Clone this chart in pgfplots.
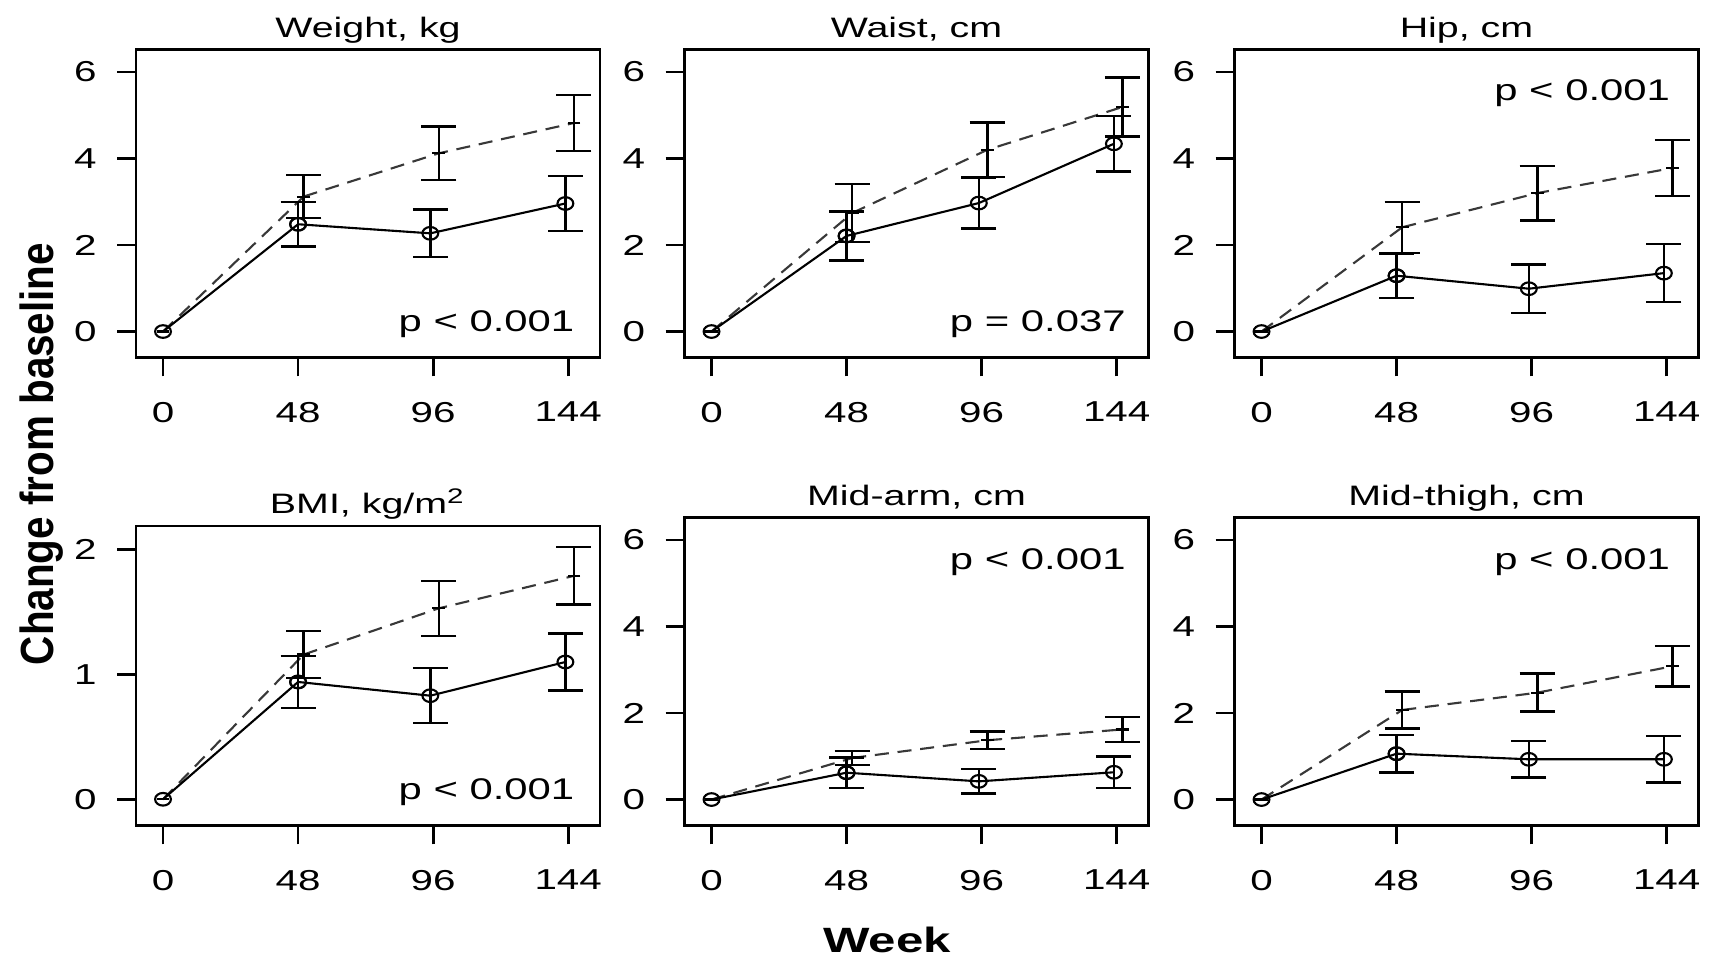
\documentclass[border=0pt]{standalone}
\usepackage{fontspec}
\setmainfont{Liberation Sans}
\usepackage{pgfplots}
\pgfplotsset{compat=1.18}
\newcommand\sx[1]{\scalebox{1.4}[1]{#1}}
\tikzset{pv/.style={anchor=base east, inner sep=0pt, font=\fontsize{8.5}{9}\selectfont}}
\pgfplotsset{
  panel/.style={
    scale only axis, width=4.64cm, height=3.08cm,
    xmin=-9.6, xmax=155.3, ymin=-0.6, ymax=6.52,
    axis line style={line width=0.8pt},
    xtick={0,48,96,144},
    xticklabels={\sx{0},\sx{48},\sx{96},\sx{144}},
    ytick={0,2,4,6},
    yticklabels={\sx{0},\sx{2},\sx{4},\sx{6}},
    xtick pos=bottom, ytick pos=left,
    tick align=outside, major tick length=0.19cm,
    tick style={line width=0.8pt, black},
    ticklabel style={font=\fontsize{8.2}{9}\selectfont},
    xticklabel style={yshift=-0.13cm},
    yticklabel style={xshift=-0.08cm},
    title style={at={(0.5,1)}, anchor=base, yshift=-0.086cm, font=\fontsize{8}{9}\selectfont},
    clip=false,
  },
  sol/.style={black, line width=0.6pt, mark=o, mark size=1.8pt, mark options={solid, line width=0.6pt, xscale=1.25}},
  dsh/.style={black!78, line width=0.6pt, dash pattern=on 4pt off 2.5pt, mark=-, mark size=1.8pt, mark options={solid, black}},
  eb/.style={error bars/.cd, y dir=both, y explicit,
    error bar style={line width=0.7pt, solid, black},
    error mark options={line width=0.7pt, black, solid, mark size=5pt, rotate=90}},
}
\begin{document}
\begin{tikzpicture}
\path[use as bounding box] (0,0) rectangle (17.16,9.56);
% Weight
\begin{axis}[panel, at={(1.36cm,5.985cm)}, anchor=south west, title={\sx{Weight, kg}}]
\addplot[dsh] coordinates {(0,0) (50,3.12)};
\addplot[dsh, eb] coordinates {(50,3.12) +- (0,0.5) (98,4.12) +- (0,0.62) (146,4.82) +- (0,0.65)};
\addplot[sol] coordinates {(0,0) (48,2.48)};
\addplot[sol, eb] coordinates {(48,2.48) +- (0,0.51) (95,2.27) +- (0,0.55) (143,2.96) +- (0,0.64)};
\node[pv] at (axis cs:146.4,0) {\sx{p < 0.001}};
\end{axis}
% Waist
\begin{axis}[panel, at={(6.845cm,5.985cm)}, anchor=south west, title={\sx{Waist, cm}}]
\addplot[dsh] coordinates {(0,0) (50,2.74)};
\addplot[dsh, eb] coordinates {(50,2.74) +- (0,0.67) (98,4.2) +- (0,0.63) (146,5.19) +- (0,0.68)};
\addplot[sol] coordinates {(0,0) (48,2.21)};
\addplot[sol, eb] coordinates {(48,2.21) +- (0,0.57) (95,2.97) +- (0,0.59) (143,4.34) +- (0,0.64)};
\node[pv] at (axis cs:147.4,0) {\sx{p = 0.037}};
\end{axis}
% Hip
\begin{axis}[panel, at={(12.345cm,5.985cm)}, anchor=south west, title={\sx{Hip, cm}}]
\addplot[dsh] coordinates {(0,0) (50,2.41)};
\addplot[dsh, eb] coordinates {(50,2.41) +- (0,0.59) (98,3.2) +- (0,0.63) (146,3.78) +- (0,0.65)};
\addplot[sol] coordinates {(0,0) (48,1.29)};
\addplot[sol, eb] coordinates {(48,1.29) +- (0,0.51) (95,0.99) +- (0,0.56) (143,1.35) +- (0,0.67)};
\node[pv] at (axis cs:145.4,5.35) {\sx{p < 0.001}};
\end{axis}
% BMI
\begin{axis}[panel, at={(1.36cm,1.305cm)}, anchor=south west, height=2.995cm,
  ymin=-0.21, ymax=2.19, ytick={0,1,2}, yticklabels={\sx{0},\sx{1},\sx{2}},
  title={\sx{BMI, kg/m\textsuperscript{2}}}]
\addplot[dsh] coordinates {(0,0) (50,1.16)};
\addplot[dsh, eb] coordinates {(50,1.16) +- (0,0.19) (98,1.53) +- (0,0.22) (146,1.79) +- (0,0.23)};
\addplot[sol] coordinates {(0,0) (48,0.94)};
\addplot[sol, eb] coordinates {(48,0.94) +- (0,0.21) (95,0.83) +- (0,0.22) (143,1.10) +- (0,0.23)};
\node[pv] at (axis cs:146.4,0) {\sx{p < 0.001}};
\end{axis}
% Mid-arm
\begin{axis}[panel, at={(6.845cm,1.305cm)}, anchor=south west, title={\sx{Mid-arm, cm}}]
\addplot[dsh] coordinates {(0,0) (50,0.96)};
\addplot[dsh, eb] coordinates {(50,0.96) +- (0,0.16) (98,1.37) +- (0,0.2) (146,1.62) +- (0,0.29)};
\addplot[sol] coordinates {(0,0) (48,0.62)};
\addplot[sol, eb] coordinates {(48,0.62) +- (0,0.35) (95,0.42) +- (0,0.28) (143,0.63) +- (0,0.36)};
\node[pv] at (axis cs:147.4,5.32) {\sx{p < 0.001}};
\end{axis}
% Mid-thigh
\begin{axis}[panel, at={(12.345cm,1.305cm)}, anchor=south west, title={\sx{Mid-thigh, cm}}]
\addplot[dsh] coordinates {(0,0) (50,2.07)};
\addplot[dsh, eb] coordinates {(50,2.07) +- (0,0.43) (98,2.47) +- (0,0.44) (146,3.08) +- (0,0.47)};
\addplot[sol] coordinates {(0,0) (48,1.06)};
\addplot[sol, eb] coordinates {(48,1.06) +- (0,0.43) (95,0.93) +- (0,0.42) (143,0.93) +- (0,0.54)};
\node[pv] at (axis cs:145.4,5.32) {\sx{p < 0.001}};
\end{axis}
\node[anchor=base, font=\bfseries\fontsize{10}{12}\selectfont] at (8.87,0.035) {\scalebox{1.4}[1]{Week}};
\node[anchor=base, rotate=90, font=\bfseries\fontsize{11.5}{13}\selectfont] at (0.53,5.02) {\scalebox{1}[1.15]{Change from baseline}};
\end{tikzpicture}
\end{document}
